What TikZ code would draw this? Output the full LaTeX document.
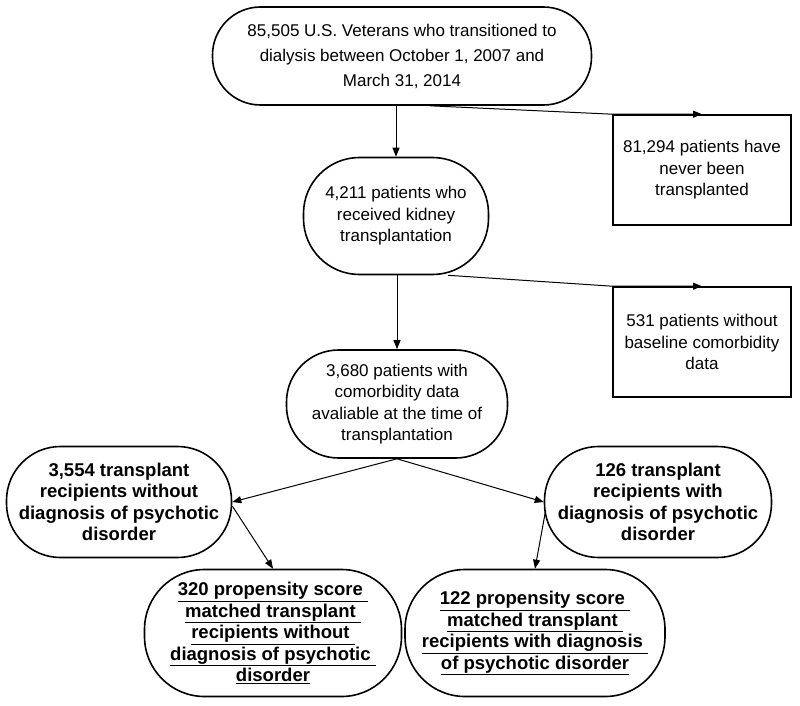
\documentclass[tikz,border=0pt]{standalone}
\usepackage{fontspec}
\setmainfont{Liberation Sans}
\usepackage{tikz}
\usetikzlibrary{arrows.meta,positioning,calc}

\begin{document}
\begin{tikzpicture}[
  x=1pt, y=-1pt,
  every node/.style={font=\fontsize{17}{21.5}\selectfont, align=center, inner sep=0pt},
  pill/.style={draw, line width=1.6pt, rounded corners=48pt},
  bpill/.style={pill, font=\fontsize{18.5}{21.5}\selectfont\bfseries},
  exbox/.style={draw, line width=1.6pt, minimum width=178pt, minimum height=110pt},
  arrow/.style={-{Triangle[length=9pt,width=7pt]}, line width=1pt},
  ]

\useasboundingbox (0,0) rectangle (800,706);

% Nodes
\node[pill, minimum width=379pt, minimum height=98pt, font=\fontsize{17}{25}\selectfont] (veterans) at (402,56)
  {85,505 U.S. Veterans who transitioned to\\dialysis between October 1, 2007 and\\March 31, 2014};
\node[pill, rounded corners=56pt, minimum width=185pt, minimum height=117pt] (kidney) at (396,216)
  {4,211 patients who\\received kidney\\transplantation};
\node[pill, rounded corners=52pt, minimum width=221pt, minimum height=108pt] (comorb) at (397,404)
  {3,680 patients with\\comorbidity data\\avaliable at the time of\\transplantation};
\node[exbox] (never) at (702,170) {81,294 patients have\\never been\\transplanted};
\node[exbox] (nobase) at (702,342) {531 patients without\\baseline comorbidity\\data};
\node[bpill, rounded corners=54pt, minimum width=225pt, minimum height=111pt] (nopsy) at (119,502)
  {3,554 transplant\\recipients without\\diagnosis of psychotic\\disorder};
\node[bpill, rounded corners=54pt, minimum width=227pt, minimum height=111pt] (psy) at (658,502)
  {126 transplant\\recipients with\\diagnosis of psychotic\\disorder};
\node[bpill, rounded corners=60pt, minimum width=257pt, minimum height=127pt] (matchno) at (273,633)
  {\underline{320 propensity score\ }\\\underline{matched transplant\ }\\\underline{recipients without\ }\\\underline{diagnosis of psychotic\ }\\\underline{disorder}};
\node[bpill, rounded corners=60pt, minimum width=260pt, minimum height=127pt] (matchpsy) at (535,633)
  {\underline{122 propensity score\ }\\\underline{matched transplant\ }\\\underline{recipients with diagnosis\ }\\\underline{of psychotic disorder}};

% Arrows
\draw[arrow] (veterans.south -| kidney.north) -- (kidney.north);
\draw[arrow] (kidney.south -| comorb.north) -- (comorb.north);
\draw[arrow] ($(veterans.south)+(28,0)$) -- (never.north west) -- (never.north);
\draw[arrow] ($(kidney.south)+(52,0)$) -- (nobase.north west) -- (nobase.north);
\draw[arrow] (comorb.south) -- (nopsy.east);
\draw[arrow] (comorb.south) -- (psy.west);
\draw[arrow] ($(nopsy.east)+(0,4)$) -- (matchno.north);
\draw[arrow] ($(psy.west)+(2,8)$) -- (matchpsy.north);

\end{tikzpicture}
\end{document}
